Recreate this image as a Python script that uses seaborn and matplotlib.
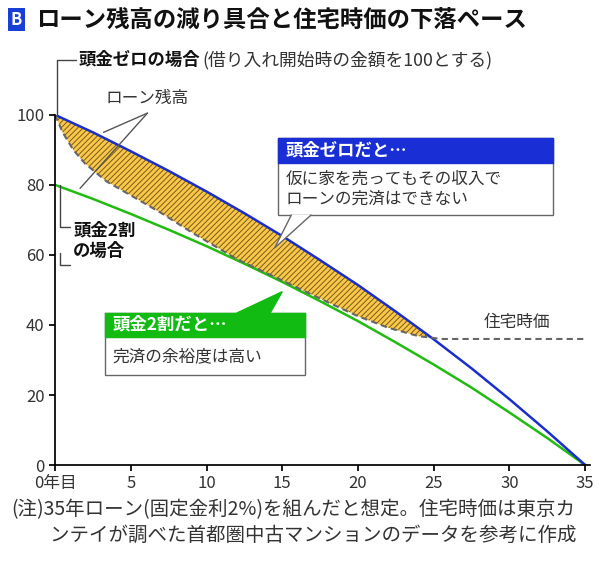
import matplotlib
matplotlib.use("Agg")
import matplotlib.pyplot as plt
import seaborn as sns
import numpy as np
import pandas as pd
from matplotlib.patches import Rectangle

sns.set_theme(style="white")
plt.rcParams['font.family'] = ['Noto Sans CJK JP', 'DejaVu Sans']
plt.rcParams['hatch.linewidth'] = 0.7

years = [0, 2.5, 5, 7.5, 10, 12.5, 15, 17.5, 20, 22.5, 25, 27.5, 30, 32.5, 35]
loan_zero = [100, 95.0, 89.6, 84.0, 78.1, 71.9, 65.4, 58.5, 51.4, 43.8, 35.9, 27.6, 18.8, 9.6, 0]
loan_20 = [80, 76.0, 71.7, 67.2, 62.5, 57.5, 52.3, 46.8, 41.1, 35.0, 28.7, 22.1, 15.0, 7.7, 0]
price_years = [0, 0.5, 1.2, 2, 3.4, 5, 7, 9, 12, 15, 18, 20, 22, 24, 25.5, 35]
price = [100, 95, 90, 86, 81, 77, 72, 66.5, 58.8, 52.7, 46.5, 42.5, 39.2, 36.8, 36, 36]

fig = plt.figure(figsize=(6.05, 5.63), dpi=100)
ax = fig.add_axes([0.091, 0.174, 0.885, 0.622])

xf = np.linspace(0, 25.5, 300)
lz = np.interp(xf, years, loan_zero)
pr = np.interp(xf, price_years, price)
ax.fill_between(xf, pr, lz, where=lz >= pr, facecolor='#f9c84a', edgecolor='#7a5a18',
                hatch='//////', linewidth=0)

df = pd.DataFrame({'x': years, 'zero': loan_zero, 'twenty': loan_20})
sns.lineplot(data=df, x='x', y='twenty', color='#22bb11', lw=1.8, ax=ax)
sns.lineplot(data=df, x='x', y='zero', color='#1a2ecc', lw=1.8, ax=ax)
ax.plot(price_years, price, color='#666666', lw=1.5, ls=(0, (3, 2)))

ax.set_xlim(0, 35.35)
ax.set_ylim(0, 100)
ax.set_xticks([0, 5, 10, 15, 20, 25, 30, 35])
ax.set_xticklabels(['0年目', '5', '10', '15', '20', '25', '30', '35'])
ax.set_yticks([0, 20, 40, 60, 80, 100])
ax.set_xlabel(''); ax.set_ylabel('')
for s in ['top', 'right']:
    ax.spines[s].set_visible(False)
for s in ['left', 'bottom']:
    ax.spines[s].set_color('black')
ax.tick_params(axis='both', length=4, color='black', labelsize=12, labelcolor='#333333', direction='out')
ax.tick_params(axis='x', bottom=True)
ax.tick_params(axis='y', left=True)

# title
fig.text(0.018, 0.965, 'B', color='white', fontsize=12, fontweight='bold', va='center',
         bbox=dict(boxstyle='square,pad=0.15', fc='#1a3fd6', ec='none'))
fig.text(0.06, 0.965, 'ローン残高の減り具合と住宅時価の下落ペース', fontsize=16.8, fontweight='bold', va='center', color='#111111')
fig.text(0.13, 0.893, '頭金ゼロの場合', fontsize=12.5, fontweight='bold', va='center', color='#111111')
fig.text(0.335, 0.893, '(借り入れ開始時の金額を100とする)', fontsize=12.8, va='center', color='#333333')
fig.add_artist(plt.Line2D([0.095, 0.095, 0.125], [0.795, 0.893, 0.893], color='#444444', lw=1, transform=fig.transFigure))

# ローン残高 labels
ax.text(6.1, 103.5, 'ローン残高', fontsize=12, color='#333333', ha='center')
ax.plot([6.1, 3.2], [100.5, 95], color='#555555', lw=1, clip_on=False)
ax.plot([6.1, 1.65], [100.5, 79], color='#555555', lw=1, clip_on=False)
ax.text(1.2, 64, '頭金2割\nの場合', fontsize=12.5, fontweight='bold', va='center', color='#111111', linespacing=1.2)
ax.plot([0.3, 0.3, 1.0], [80, 68, 68], color='#444444', lw=1)
ax.plot([0.3, 0.3, 1.0], [60.5, 57, 57], color='#444444', lw=1)

# blue callout
ax.add_patch(Rectangle((14.7, 71.4), 18.2, 22.0, fc='white', ec='#666666', lw=1))
ax.add_patch(Rectangle((14.7, 86.3), 18.2, 7.1, fc='#1a2ed6', ec='#1a2ed6', lw=1))
ax.text(15.2, 89.8, '頭金ゼロだと…', fontsize=12.5, fontweight='bold', color='white', va='center')
ax.text(15.2, 78.8, '仮に家を売ってもその収入で\nローンの完済はできない', fontsize=12, color='#333333', va='center', linespacing=1.2)
ax.fill([15.6, 14.5, 16.9], [71.4, 62, 71.4], fc='white', ec='none', zorder=5)
ax.plot([15.6, 14.5, 16.9], [71.4, 62, 71.4], color='#666666', lw=1, zorder=6)

# green callout
ax.add_patch(Rectangle((3.3, 25.7), 13.2, 17.7, fc='white', ec='#666666', lw=1))
ax.add_patch(Rectangle((3.3, 36.6), 13.2, 6.8, fc='#11bb11', ec='#11bb11', lw=1))
ax.text(3.8, 40, '頭金2割だと…', fontsize=12.5, fontweight='bold', color='white', va='center')
ax.text(3.8, 31, '完済の余裕度は高い', fontsize=12, color='#333333', va='center')
ax.fill([12.0, 15.0, 14.2], [43.4, 49.5, 43.4], color='#11bb11', zorder=5)

ax.text(30.5, 39.5, '住宅時価', fontsize=12, color='#333333', ha='center')

fig.text(0.018, 0.072, '(注)35年ローン(固定金利2%)を組んだと想定。住宅時価は東京カ\n　　ンテイが調べた首都圏中古マンションのデータを参考に作成',
         fontsize=14, color='#333333', va='center', linespacing=1.3)

fig.savefig('out.png', dpi=100)
